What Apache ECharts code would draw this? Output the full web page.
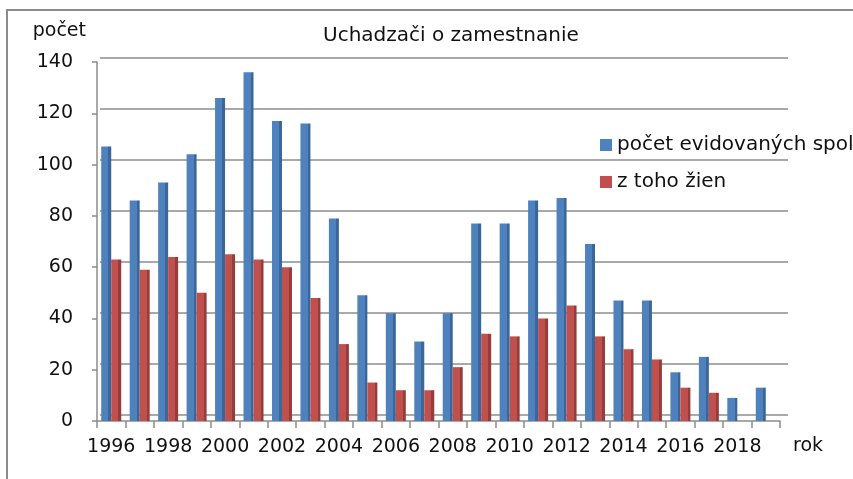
<!DOCTYPE html>
<html>
<head>
<meta charset="utf-8">
<script src="https://cdn.jsdelivr.net/npm/echarts@6/dist/echarts.min.js"></script>
<style>
  html, body { margin: 0; padding: 0; background: #fff; }
  #chart { width: 853px; height: 479px; }
</style>
</head>
<body>
<div id="chart"></div>
<script>
// roky a hodnoty odčítané z grafu
const years = ['1996', '1997', '1998', '1999', '2000', '2001', '2002', '2003', '2004', '2005', '2006', '2007',
  '2008', '2009', '2010', '2011', '2012', '2013', '2014', '2015', '2016', '2017', '2018', '2019'];
const spolu = [107, 86, 93, 104, 126, 136, 117, 116, 79, 49, 42, 31, 42, 77, 77, 86, 87, 69, 47, 47, 19, 25, 9, 13];
const zien = [63, 59, 64, 50, 65, 63, 60, 48, 30, 15, 12, 12, 21, 34, 33, 40, 45, 33, 28, 24, 13, 11, 0, 0];
const yTicks = [0, 20, 40, 60, 80, 100, 120, 140];

const font = 'DejaVu Sans';
const blue = '#4f81bd', blueSide = '#3b6699';
const red = '#c0504d', redSide = '#963c3a';

// bočná stena stĺpca (imitácia 3D)
const barFill = (main, side) => new echarts.graphic.LinearGradient(0, 0, 1, 0, [
  { offset: 0, color: main },
  { offset: 0.72, color: main },
  { offset: 0.72, color: side },
  { offset: 1, color: side }
]);

const chart = echarts.init(document.getElementById('chart'));

const option = {
  backgroundColor: '#fff',
  animation: false,
  title: {
    text: 'Uchadzači o zamestnanie',
    left: 318,
    top: 21,
    textStyle: { fontFamily: font, fontSize: 20, fontWeight: 'normal', color: '#111' }
  },
  legend: {
    orient: 'vertical',
    left: 595,
    top: 130,
    itemWidth: 12,
    itemHeight: 12,
    itemGap: 17,
    icon: 'rect',
    textStyle: { fontFamily: font, fontSize: 20, color: '#111' },
    data: [
      { name: 'počet evidovaných spolu', itemStyle: { color: blue } },
      { name: 'z toho žien', itemStyle: { color: red } }
    ]
  },
  graphic: [
    {
      type: 'rect',
      shape: { x: 7, y: 10, width: 900, height: 520 },
      style: { fill: 'none', stroke: '#8c8c8c', lineWidth: 2 },
      z: -1
    },
    {
      type: 'text',
      left: 793,
      top: 437,
      style: { text: 'rok', fontFamily: font, fontSize: 19, fill: '#111' }
    }
  ],
  grid: [
    { left: 97, right: 73, top: 62, bottom: 58 },
    // zadná stena s mriežkou
    { left: 100, right: 65, top: 58, bottom: 64 }
  ],
  xAxis: [
    {
      type: 'category',
      gridIndex: 0,
      data: years,
      axisLine: { lineStyle: { color: '#8c8c8c', width: 1.5 } },
      axisTick: { show: true, interval: 0, length: 7, lineStyle: { color: '#8c8c8c', width: 1.5 } },
      axisLabel: { interval: 1, margin: 17, fontFamily: font, fontSize: 19, color: '#111' }
    },
    {
      type: 'category',
      gridIndex: 1,
      data: years,
      axisLine: { show: false },
      axisTick: { show: false },
      axisLabel: { show: false }
    }
  ],
  yAxis: [
    {
      type: 'value',
      gridIndex: 0,
      min: yTicks[0],
      max: yTicks[yTicks.length - 1],
      interval: 20,
      name: 'počet',
      nameLocation: 'end',
      nameGap: 21,
      nameTextStyle: { fontFamily: font, fontSize: 19, color: '#111', align: 'right', padding: [0, 11, 0, 0] },
      axisLine: { show: true, lineStyle: { color: '#8c8c8c', width: 1.5 } },
      axisTick: { show: true, length: 5, lineStyle: { color: '#8c8c8c', width: 1.5 } },
      axisLabel: { margin: 24, fontFamily: font, fontSize: 19, color: '#111' },
      splitLine: { show: false }
    },
    {
      type: 'value',
      gridIndex: 1,
      min: yTicks[0],
      max: yTicks[yTicks.length - 1],
      interval: 20,
      axisLine: { show: false },
      axisTick: { show: false },
      axisLabel: { show: false },
      splitLine: { show: true, lineStyle: { color: '#8c8c8c', width: 1.5 } }
    }
  ],
  series: [
    {
      name: 'počet evidovaných spolu',
      type: 'bar',
      xAxisIndex: 0,
      yAxisIndex: 0,
      data: spolu,
      barWidth: 10,
      barGap: '0%',
      itemStyle: { color: barFill(blue, blueSide) }
    },
    {
      name: 'z toho žien',
      type: 'bar',
      xAxisIndex: 0,
      yAxisIndex: 0,
      data: zien,
      barWidth: 10,
      barGap: '0%',
      itemStyle: { color: barFill(red, redSide) }
    }
  ]
};

chart.setOption(option);
</script>
</body>
</html>
